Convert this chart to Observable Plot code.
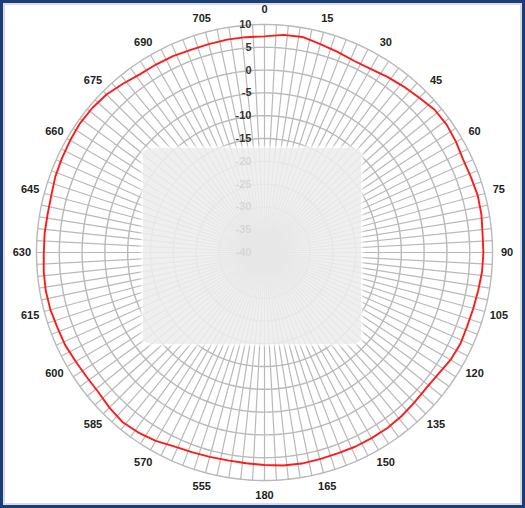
<!DOCTYPE html>
<html><head><meta charset="utf-8">
<script src="https://cdn.jsdelivr.net/npm/d3@7"></script>
<script src="https://cdn.jsdelivr.net/npm/@observablehq/plot@0.6"></script>
<style>
html,body{margin:0;padding:0;background:#fff;}
#wrap{position:relative;width:525px;height:508px;overflow:hidden;background:#fff;}
#wrap svg{position:absolute;left:0;top:0;}
#veil{position:absolute;left:143px;top:148px;width:218px;height:196px;background:rgba(237,237,237,0.88);border-radius:12px/5px;pointer-events:none;box-shadow:0 0 3px 2px rgba(255,255,255,0.8);}
#frame{position:absolute;left:0;top:0;width:525px;height:508px;box-sizing:border-box;border:3px solid #1c3d78;box-shadow:inset 0 0 0 2px #d8dce4;pointer-events:none;}
</style></head><body>
<div id="wrap"><div id="veil"></div><div id="frame"></div></div>
<script>
// Measured pattern (dB) every 5 degrees, clockwise from top
const angles = [0,5,10,15,20,25,30,35,40,45,50,55,60,65,70,75,80,85,90,95,100,105,110,115,120,125,130,135,140,145,150,155,160,165,170,175,180,185,190,195,200,205,210,215,220,225,230,235,240,245,250,255,260,265,270,275,280,285,290,295,300,305,310,315,320,325,330,335,340,345,350,355];
const gain = [7.4,7.9,8.0,7.3,6.8,6.4,6.5,7.0,7.5,8.0,8.7,8.8,8.5,8.1,8.2,8.4,8.3,8.0,8.0,7.9,7.6,7.4,7.3,7.4,7.1,6.5,6.3,6.5,6.8,7.0,7.0,7.0,6.9,6.9,7.0,6.9,6.6,6.4,6.3,6.4,6.6,6.9,7.7,8.2,8.5,8.1,7.6,7.6,7.8,8.2,8.3,8.6,8.7,8.6,8.4,8.4,8.3,8.4,8.8,9.0,9.2,9.4,9.3,9.0,8.3,7.7,7.6,7.5,7.3,7.3,7.4,7.4];

// Radial axis ticks (dB)
const ringValues = [10,5,0,-5,-10,-15,-20,-25,-30,-35];
const radialTickValues = [10,5,0,-5,-10,-15,-20,-25,-30,-35,-40];
const radialTickLabels = ["10","5","0","-5","-10","-15","-20","-25","-30","-35","-40"];

// Angular ticks
const angleTicks = [0,15,30,45,60,75,90,105,120,135,150,165,180,195,210,225,240,255,270,285,300,315,330,345];
const angleTickLabels = ["0","15","30","45","60","75","90","105","120","135","150","165","180","555","570","585","600","615","630","645","660","675","690","705"];
const spokeStep = 3;

const rMin = -40, rMax = 10;
const R = rMax - rMin;
const rad = d => d * Math.PI / 180;
const pol = (a, v) => ({x: (v - rMin) * Math.sin(rad(a)), y: (v - rMin) * Math.cos(rad(a))});

const pattern = angles.map((a, i) => ({a, v: gain[i], ...pol(a, gain[i])}));

const ringPts = [];
for (const v of ringValues) for (let a = 0; a <= 360; a += 1) ringPts.push({ring: v, ...pol(a, v)});

const spokes = d3.range(0, 360, spokeStep).map(a => {
  const p = pol(a, rMax);
  return {x1: 0, y1: 0, x2: p.x, y2: p.y};
});

const labelR = 53.2;
const angLabels = angleTicks.map((a, i) => ({
  text: angleTickLabels[i],
  x: labelR * Math.sin(rad(a)),
  y: labelR * Math.cos(rad(a))
}));
const radLabels = radialTickValues.map((v, i) => ({text: radialTickLabels[i], ...pol(0, v)}));

const grid = "#b9b9b9";
const chart = Plot.plot({
  width: 525,
  height: 508,
  marginLeft: 36,
  marginRight: 33,
  marginTop: 24,
  marginBottom: 28,
  x: {domain: [-R, R], axis: null},
  y: {domain: [-R, R], axis: null},
  style: {fontFamily: "'Liberation Sans', Arial, sans-serif", background: "transparent"},
  marks: [
    Plot.link(spokes, {x1: "x1", y1: "y1", x2: "x2", y2: "y2", stroke: grid, strokeWidth: 1.2}),
    Plot.line(ringPts, {x: "x", y: "y", z: "ring", stroke: grid, strokeWidth: 1.4}),
    Plot.text(radLabels, {x: "x", y: "y", text: "text", textAnchor: "end", dx: -13, fontSize: 11, fontWeight: "bold", fill: "#333"}),
    Plot.line(pattern, {x: "x", y: "y", stroke: "#ff1a1a", strokeWidth: 1.9, curve: "linear-closed"}),
    Plot.text(angLabels, {x: "x", y: "y", text: "text", fontSize: 11, fontWeight: "bold", fill: "#222"})
  ]
});
document.getElementById("wrap").insertBefore(chart, document.getElementById("veil"));
</script>
</body></html>
